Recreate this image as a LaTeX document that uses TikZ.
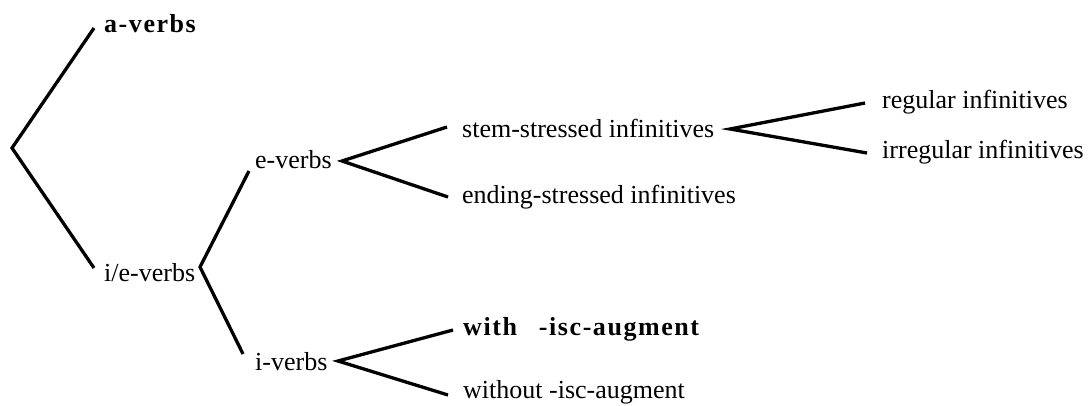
\documentclass[tikz,border=0pt]{standalone}
\usepackage{fontspec}
\setmainfont{Liberation Serif}
\newfontfamily\spacedbold[LetterSpace=6]{Liberation Serif Bold}
\begin{document}
\begin{tikzpicture}[x=1pt,y=-1pt,
  lbl/.style={anchor=base west,inner sep=0pt,font=\fontsize{26}{30}\selectfont},
  blbl/.style={anchor=base west,inner sep=0pt,font=\fontsize{26}{30}\spacedbold},
  edge/.style={line width=3.3pt,line cap=butt,line join=miter}]
\useasboundingbox (0,0) rectangle (1088,405);
% labels
\node[blbl] (av) at (104,32) {a-verbs};
\node[lbl] (iev) at (104,281) {i/e-verbs};
\node[lbl] (ev) at (255,168) {e-verbs};
\node[lbl] (iv) at (255,370) {i-verbs};
\node[lbl] (ssi) at (462,137) {stem-stressed infinitives};
\node[lbl] (esi) at (462,203) {ending-stressed infinitives};
\node[lbl] (ri) at (882,108) {regular infinitives};
\node[lbl] (ii) at (882,158) {irregular infinitives};
\node[blbl] (wia) at (463,335) {with\hspace{22pt}-isc-augment};
\node[lbl] (woa) at (463,398) {without -isc-augment};
% branching points
\coordinate (root) at (12,148);
\coordinate (bie) at (200,267);
\coordinate (be) at (342,161);
\coordinate (bs) at (730,129);
\coordinate (bi) at (338,361);
% connectors
\draw[edge] ([shift={(-10,-4)}]av.base west) -- (root) -- ([shift={(-10,-13)}]iev.base west);
\draw[edge] ([shift={(-6,3)}]ev.base west) -- (bie) -- ([shift={(-12,-16)}]iv.base west);
\draw[edge] ([shift={(-15,-10)}]ssi.base west) -- (be) -- ([shift={(-14,-6)}]esi.base west);
\draw[edge] ([shift={(-17,-5)}]ri.base west) -- (bs) -- ([shift={(-15,-5)}]ii.base west);
\draw[edge] ([shift={(-10,-5)}]wia.base west) -- (bi) -- ([shift={(-15,-3)}]woa.base west);
\end{tikzpicture}
\end{document}
